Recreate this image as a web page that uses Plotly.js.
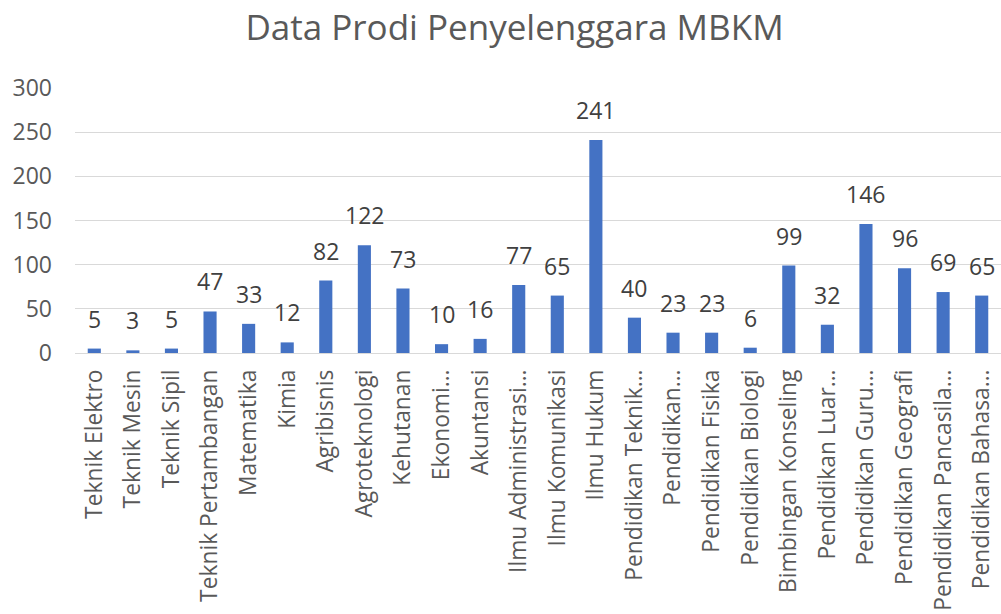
<!DOCTYPE html>
<html><head><meta charset="utf-8">
<script src="https://cdn.plot.ly/plotly-3.0.1.min.js"></script>
<style>html,body{margin:0;padding:0;background:#fff}</style>
</head><body>
<div id="chart" style="width:1001px;height:614px"></div>
<script>
const categories = ["Teknik Elektro","Teknik Mesin","Teknik Sipil","Teknik Pertambangan","Matematika","Kimia","Agribisnis","Agroteknologi","Kehutanan","Ekonomi…","Akuntansi","Ilmu Administrasi…","Ilmu Komunikasi","Ilmu Hukum","Pendidikan Teknik…","Pendidikan…","Pendidikan Fisika","Pendidikan Biologi","Bimbingan Konseling","Pendidikan Luar…","Pendidikan Guru…","Pendidikan Geografi","Pendidikan Pancasila…","Pendidikan Bahasa…"];
const values = [5,3,5,47,33,12,82,122,73,10,16,77,65,241,40,23,23,6,99,32,146,96,69,65];
const yTicks = [0,50,100,150,200,250,300];

const font = "'Open Sans', 'Noto Sans', sans-serif";
const labels = categories.map((c, i) => ({
  x: c, y: values[i], xref: 'x', yref: 'y',
  text: String(values[i]), showarrow: false,
  xanchor: 'center', yanchor: 'bottom', yshift: 12,
  font: {family: font, size: 23, color: '#404040'}
}));

Plotly.newPlot('chart', [{
  type: 'bar',
  x: categories,
  y: values,
  marker: {color: '#4472C4'},
  hoverinfo: 'x+y'
}], {
  width: 1001, height: 614,
  margin: {l: 75, r: 0, t: 88, b: 261},
  paper_bgcolor: '#fff', plot_bgcolor: '#fff',
  title: {text: 'Data Prodi Penyelenggara MBKM', x: 0.514, xanchor: 'center', y: 0.955, yanchor: 'middle',
          font: {family: font, size: 35, color: '#595959'}},
  bargap: 0.66,
  annotations: labels,
  xaxis: {
    type: 'category', tickangle: -90, automargin: false,
    tickfont: {family: font, size: 22.8, color: '#595959'},
    showgrid: false, zeroline: false, showline: false,
    ticks: '', ticklabelstandoff: 11
  },
  yaxis: {
    range: [0, 300], tickvals: yTicks, automargin: false,
    tickfont: {family: font, size: 23, color: '#595959'},
    showgrid: true, gridcolor: '#D9D9D9', gridwidth: 1,
    zeroline: true, zerolinecolor: '#D9D9D9', zerolinewidth: 1,
    showline: false, ticks: '', ticklabelstandoff: 22
  },
  showlegend: false
}, {displayModeBar: false, staticPlot: true});
</script>
</body></html>
